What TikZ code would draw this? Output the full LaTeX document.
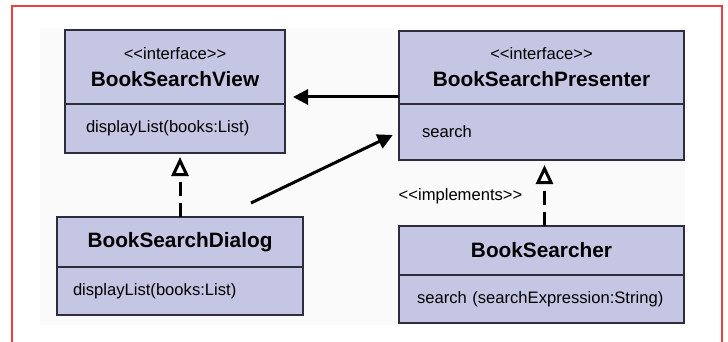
\documentclass[tikz,border=0pt]{standalone}
\usepackage{fontspec}
\newfontfamily\umlfont{Liberation Sans}
\usetikzlibrary{arrows.meta,positioning}
\definecolor{classfill}{RGB}{197,197,228}
\definecolor{classline}{RGB}{45,45,60}
\definecolor{framered}{RGB}{232,64,64}

\begin{document}
\begin{tikzpicture}[x=0.5pt, y=-0.5pt,
    classhead/.style={draw=classline, fill=classfill, line width=0.8pt, outer sep=0pt,
        anchor=north west, align=center, inner sep=0pt,
        font=\umlfont\fontsize{10.4}{12.5}\selectfont\bfseries},
    classbody/.style={draw=classline, fill=classfill, line width=0.8pt, outer sep=0pt,
        anchor=north west, align=left, inner ysep=0pt,
        font=\umlfont\fontsize{8.3}{10}\selectfont},
    stereo/.style={font=\umlfont\fontsize{8.3}{10}\selectfont},
    assoc/.style={line width=1.5pt, -{Stealth[length=7.5pt, width=7.5pt, inset=0pt]}},
    realize/.style={line width=1.5pt, dash pattern=on 7pt off 3.5pt,
        -{Triangle[open, length=9.5pt, width=8.5pt]}}]
    \useasboundingbox (0,0) rectangle (728,342);
    % Sfondo e cornice
    \fill[black!2] (40,28) rectangle (685,325);
    \draw[framered, line width=1pt] (12,342) -- (12,6) -- (722,6) -- (722,342);
    % Interfaccia della vista
    \node[classhead, minimum width=110pt, minimum height=37pt] (viewhead) at (65,30)
        {{\mdseries\fontsize{8.3}{10}\selectfont <<interface>>}\\[1pt] BookSearchView};
    \node[classbody, text width=89pt, inner xsep=10.5pt, minimum height=24.5pt] (viewbody)
        at (viewhead.south west) {displayList(books:List)};
    % Interfaccia del presenter
    \node[classhead, minimum width=142.5pt, minimum height=36.5pt] (presenterhead) at (399,31)
        {{\mdseries\fontsize{8.3}{10}\selectfont <<interface>>}\\[1pt] BookSearchPresenter};
    \node[classbody, text width=119.5pt, inner xsep=11.5pt, minimum height=28pt] (presenterbody)
        at (presenterhead.south west) {search};
    % Dialogo
    \node[classhead, minimum width=123pt, minimum height=25pt] (dialoghead) at (57,217)
        {BookSearchDialog};
    \node[classbody, text width=107pt, inner xsep=8pt, minimum height=24pt] (dialogbody)
        at (dialoghead.south west) {displayList(books:List)};
    % Searcher
    \node[classhead, minimum width=142.5pt, minimum height=24.5pt] (searcherhead) at (399,226)
        {BookSearcher};
    \node[classbody, text width=124.5pt, inner xsep=9pt, minimum height=24pt] (searcherbody)
        at (searcherhead.south west) {search (searchExpression:String)};
    % Associazioni
    \draw[assoc, shorten >=4pt] ([yshift=3.5pt]presenterhead.south west)
        -- ([yshift=3.5pt]viewhead.south east);
    \draw[assoc, shorten >=3.5pt] ([xshift=-26pt, yshift=7pt]dialoghead.north east)
        -- (presenterbody.west);
    % Realizzazioni
    \draw[realize, shorten >=2pt] (dialoghead.north) -- (dialoghead.north |- viewbody.south);
    \draw[realize, shorten >=2.5pt] ([xshift=1.5pt]searcherhead.north)
        -- ([xshift=1.5pt]presenterbody.south)
        node[pos=0.45, left=7pt, stereo] {<<implements>>};
\end{tikzpicture}
\end{document}
